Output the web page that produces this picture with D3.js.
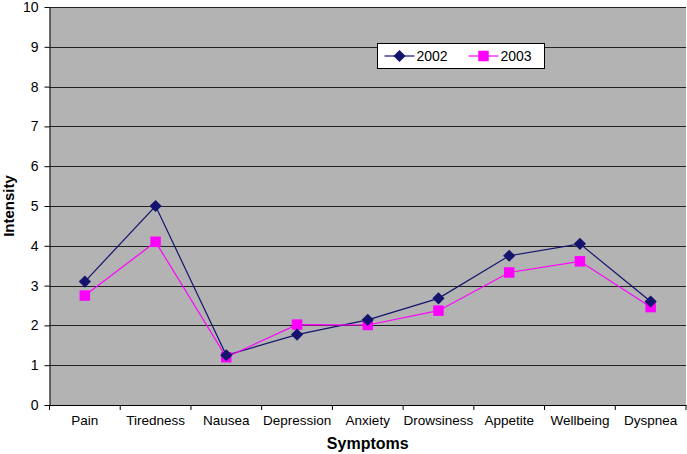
<!DOCTYPE html>
<html>
<head>
<meta charset="utf-8">
<script src="https://cdn.jsdelivr.net/npm/d3@7"></script>
<style>
    body { margin: 0; background: #fff; }
    svg { display: block; }
    svg text { font-family: "Liberation Sans", Arial, sans-serif; }
</style>
</head>
<body>
<svg id="chart"></svg>
<script>
const CATEGORIES = ['Pain', 'Tiredness', 'Nausea', 'Depression', 'Anxiety', 'Drowsiness', 'Appetite', 'Wellbeing', 'Dyspnea'];
const SERIES_NAMES = ['2002', '2003'];
const VALUES_2002 = [3.1, 5.0, 1.25, 1.77, 2.14, 2.68, 3.75, 4.05, 2.6];
const VALUES_2003 = [2.75, 4.1, 1.2, 2.02, 2.01, 2.37, 3.33, 3.61, 2.46];
const Y_TICKS = [0, 1, 2, 3, 4, 5, 6, 7, 8, 9, 10];

const width = 687;
const height = 454;
const margin = { top: 7, right: 1, bottom: 49, left: 49.5 };
const innerWidth = width - margin.left - margin.right;
const innerHeight = height - margin.top - margin.bottom;

const svg = d3.select('#chart')
    .attr('width', width)
    .attr('height', height);

const g = svg.append('g')
    .attr('transform', `translate(${ margin.left },${ margin.top })`);

const x = d3.scaleBand().domain(CATEGORIES).range([0, innerWidth]);
const y = d3.scaleLinear().domain([0, 10]).range([innerHeight, 0]);

// Plot background
g.append('rect')
    .attr('width', innerWidth)
    .attr('height', innerHeight)
    .attr('fill', '#b3b3b3');

// Gridlines
g.selectAll('.grid')
    .data(Y_TICKS.filter(d => d > 0))
    .join('line')
    .attr('x1', 0)
    .attr('x2', innerWidth)
    .attr('y1', d => Math.round(y(d)) + 0.5)
    .attr('y2', d => Math.round(y(d)) + 0.5)
    .attr('stroke', '#222')
    .attr('stroke-width', 1.2);

// Y axis
const yAxis = g.append('g')
    .call(d3.axisLeft(y).tickValues(Y_TICKS).tickSize(5).tickSizeOuter(0).tickPadding(6));
yAxis.select('.domain').attr('stroke', '#000');
yAxis.selectAll('.tick line').attr('stroke', '#000');
yAxis.selectAll('text').attr('font-size', 14).attr('fill', '#000');

// X axis, ticks sit on the band edges
const xAxis = g.append('g')
    .attr('transform', `translate(0,${ innerHeight })`)
    .call(d3.axisBottom(x).tickSize(0).tickPadding(10));
xAxis.select('.domain').attr('stroke', '#000');
xAxis.selectAll('text').attr('font-size', 13.5).attr('fill', '#000');
xAxis.selectAll('.edge')
    .data(d3.range(CATEGORIES.length + 1))
    .join('line')
    .attr('x1', i => i * x.bandwidth())
    .attr('x2', i => i * x.bandwidth())
    .attr('y1', 0)
    .attr('y2', 5)
    .attr('stroke', '#000');

// Series
const series = [
    { name: SERIES_NAMES[0], values: VALUES_2002, color: '#14146e', symbol: d3.symbolDiamond2, size: 95 },
    { name: SERIES_NAMES[1], values: VALUES_2003, color: '#ff00ff', symbol: d3.symbolSquare2, size: 140 }
];

const line = d3.line()
    .x((d, i) => x(CATEGORIES[i]) + x.bandwidth() / 2)
    .y(d => y(d));

series.forEach(s => {
    g.append('path')
        .datum(s.values)
        .attr('fill', 'none')
        .attr('stroke', s.color)
        .attr('stroke-width', 1.2)
        .attr('d', line);
});

series.slice().reverse().forEach(s => {
    g.selectAll(null)
        .data(s.values)
        .join('path')
        .attr('transform', (d, i) => `translate(${ x(CATEGORIES[i]) + x.bandwidth() / 2 },${ y(d) })`)
        .attr('d', d3.symbol().type(s.symbol).size(s.size))
        .attr('fill', s.color);
});

// Legend
const legend = svg.append('g').attr('transform', 'translate(377.5,43.5)');
legend.append('rect')
    .attr('width', 167)
    .attr('height', 25)
    .attr('fill', '#fff')
    .attr('stroke', '#000');
series.forEach((s, i) => {
    const lg = legend.append('g').attr('transform', `translate(${ 7 + i * 84 },12.5)`);
    lg.append('line')
        .attr('x1', 0).attr('x2', 30)
        .attr('stroke', s.color)
        .attr('stroke-width', 1.2);
    lg.append('path')
        .attr('transform', 'translate(15,0)')
        .attr('d', d3.symbol().type(s.symbol).size(s.size))
        .attr('fill', s.color);
    lg.append('text')
        .attr('x', 32)
        .attr('y', 5)
        .attr('font-size', 14)
        .text(s.name);
});

// Axis titles
svg.append('text')
    .attr('x', margin.left + innerWidth / 2)
    .attr('y', 449)
    .attr('text-anchor', 'middle')
    .attr('font-size', 16)
    .attr('font-weight', 'bold')
    .text('Symptoms');

svg.append('text')
    .attr('transform', `translate(14,${ margin.top + innerHeight / 2 }) rotate(-90)`)
    .attr('text-anchor', 'middle')
    .attr('font-size', 15)
    .attr('font-weight', 'bold')
    .text('Intensity');
</script>
</body>
</html>
